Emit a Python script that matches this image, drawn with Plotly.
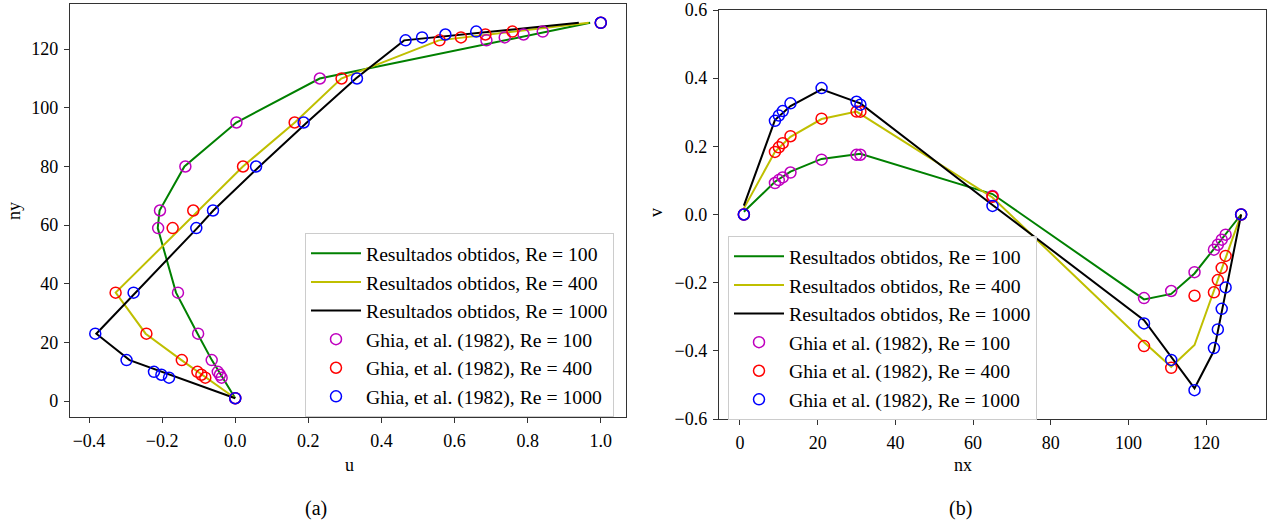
import plotly.graph_objects as go

# ---------------- Ghia et al. (1982) reference data ----------------
ghia_ny = [1, 8, 9, 10, 14, 23, 37, 59, 65, 80, 95, 110, 123, 124, 125, 126, 129]
ghia_u_100 = [0.0, -0.03717, -0.04192, -0.04775, -0.06434, -0.10150, -0.15662, -0.21090,
              -0.20581, -0.13641, 0.00332, 0.23151, 0.68717, 0.73722, 0.78871, 0.84123, 1.0]
ghia_u_400 = [0.0, -0.08186, -0.09266, -0.10338, -0.14612, -0.24299, -0.32726, -0.17119,
              -0.11477, 0.02135, 0.16256, 0.29093, 0.55892, 0.61756, 0.68439, 0.75837, 1.0]
ghia_u_1000 = [0.0, -0.18109, -0.20196, -0.22220, -0.29730, -0.38289, -0.27805, -0.10648,
               -0.06080, 0.05702, 0.18719, 0.33304, 0.46604, 0.51117, 0.57492, 0.65928, 1.0]

ghia_nx = [1, 9, 10, 11, 13, 21, 30, 31, 65, 104, 111, 117, 122, 123, 124, 125, 129]
ghia_v_100 = [0.0, 0.09233, 0.10091, 0.10890, 0.12317, 0.16077, 0.17507, 0.17527, 0.05454,
              -0.24533, -0.22445, -0.16914, -0.10313, -0.08864, -0.07391, -0.05906, 0.0]
ghia_v_400 = [0.0, 0.18360, 0.19713, 0.20920, 0.22965, 0.28124, 0.30203, 0.30174, 0.05186,
              -0.38598, -0.44993, -0.23827, -0.22847, -0.19254, -0.15663, -0.12146, 0.0]
ghia_v_1000 = [0.0, 0.27485, 0.29012, 0.30353, 0.32627, 0.37095, 0.33075, 0.32235, 0.02526,
               -0.31966, -0.42665, -0.51550, -0.39188, -0.33714, -0.27669, -0.21388, 0.0]

# ---------------- Resultados obtidos ----------------
res_ny_100 = [1, 14, 23, 37, 59, 65, 80, 95, 110, 129]
res_u_100 = [0.0, -0.064, -0.103, -0.162, -0.212, -0.207, -0.139, 0.003, 0.231, 0.971]
res_ny_400 = [1, 14, 23, 37, 80, 95, 110, 123, 129]
res_u_400 = [0.0, -0.147, -0.245, -0.327, 0.021, 0.163, 0.290, 0.557, 0.967]
res_ny_1000 = [1, 14, 23, 37, 59, 65, 80, 95, 110, 123, 129]
res_u_1000 = [0.0, -0.289, -0.380, -0.272, -0.104, -0.060, 0.066, 0.196, 0.330, 0.462, 0.940]

res_nx_100 = [1, 9, 13, 21, 31, 65, 104, 111, 117, 129]
res_v_100 = [0.008, 0.096, 0.126, 0.163, 0.178, 0.060, -0.249, -0.233, -0.173, 0.0]
res_nx_400 = [1, 9, 13, 21, 30, 65, 104, 111, 117, 129]
res_v_400 = [0.018, 0.184, 0.228, 0.280, 0.302, 0.050, -0.375, -0.447, -0.383, 0.0]
res_nx_1000 = [1, 9, 13, 21, 31, 65, 104, 117, 122, 129]
res_v_1000 = [0.026, 0.277, 0.318, 0.367, 0.326, 0.028, -0.310, -0.510, -0.400, 0.0]

reynolds = ["100", "400", "1000"]
line_colors = ["#008000", "#bfbf00", "#000000"]
marker_colors = ["#bf00bf", "#ff0000", "#0000ff"]

FONT = "Liberation Serif"
W, H = 1277, 524

fig = go.Figure()

left_lines = [(res_u_100, res_ny_100), (res_u_400, res_ny_400), (res_u_1000, res_ny_1000)]
left_marks = [ghia_u_100, ghia_u_400, ghia_u_1000]
right_lines = [(res_nx_100, res_v_100), (res_nx_400, res_v_400), (res_nx_1000, res_v_1000)]
right_marks = [ghia_v_100, ghia_v_400, ghia_v_1000]

# left panel: u along the vertical centreline
for i, re in enumerate(reynolds):
    x, y = left_lines[i]
    fig.add_trace(go.Scatter(x=x, y=y, mode="lines", line=dict(color=line_colors[i], width=2),
                             name=f"Resultados obtidos, Re = {re}", legend="legend",
                             legendgroup=f"a_l{i}", xaxis="x", yaxis="y"))
for i, re in enumerate(reynolds):
    fig.add_trace(go.Scatter(x=left_marks[i], y=ghia_ny, mode="markers",
                             marker=dict(symbol="circle-open", size=11, color=marker_colors[i],
                                         line=dict(width=1.5, color=marker_colors[i])),
                             name=f"Ghia, et al. (1982), Re = {re}", legend="legend",
                             legendgroup=f"a_m{i}", xaxis="x", yaxis="y"))

# right panel: v along the horizontal centreline
for i, re in enumerate(reynolds):
    x, y = right_lines[i]
    fig.add_trace(go.Scatter(x=x, y=y, mode="lines", line=dict(color=line_colors[i], width=2),
                             name=f"Resultados obtidos, Re = {re}", legend="legend2",
                             legendgroup=f"b_l{i}", xaxis="x2", yaxis="y2"))
for i, re in enumerate(reynolds):
    fig.add_trace(go.Scatter(x=ghia_nx, y=right_marks[i], mode="markers",
                             marker=dict(symbol="circle-open", size=11, color=marker_colors[i],
                                         line=dict(width=1.5, color=marker_colors[i])),
                             name=f"Ghia et al. (1982), Re = {re}", legend="legend2",
                             legendgroup=f"b_m{i}", xaxis="x2", yaxis="y2"))

axis_style = dict(showline=True, linecolor="#333333", linewidth=1.3, mirror=True,
                  ticks="outside", ticklen=5, tickwidth=1.1, tickcolor="#333333",
                  showgrid=False, zeroline=False, automargin=False, ticklabelstandoff=2,
                  tickfont=dict(family=FONT, size=18, color="black"))

legend_style = dict(xanchor="left", yanchor="top", bgcolor="rgba(255,255,255,0.85)",
                    bordercolor="#cccccc", borderwidth=1, itemwidth=50,
                    font=dict(family=FONT, size=19.7), tracegroupgap=1, traceorder="normal")

fig.update_layout(
    width=W, height=H,
    margin=dict(l=0, r=0, t=0, b=0, autoexpand=False),
    paper_bgcolor="white", plot_bgcolor="white",
    font=dict(family=FONT, size=18, color="black"),
    showlegend=True,
    xaxis=dict(domain=[70 / W, 626 / W], range=[-0.452, 1.069], tickvals=[-0.4, -0.2, 0, 0.2, 0.4, 0.6, 0.8, 1.0],
               tickformat=".1f", anchor="y", **axis_style),
    yaxis=dict(domain=[1 - 417 / H, 1 - 4 / H], range=[-5.4, 135.4], tickvals=[0, 20, 40, 60, 80, 100, 120],
               anchor="x", **axis_style),
    xaxis2=dict(domain=[719 / W, 1266 / W], range=[-5.4, 135.4], tickvals=[0, 20, 40, 60, 80, 100, 120],
                anchor="y2", **axis_style),
    yaxis2=dict(domain=[1 - 419 / H, 1 - 10 / H], range=[-0.6, 0.6],
                tickvals=[-0.6, -0.4, -0.2, 0.0, 0.2, 0.4, 0.6], tickformat=".1f", anchor="x2", **axis_style),
    legend=dict(x=305 / W, y=1 - 233 / H, **legend_style),
    legend2=dict(x=728 / W, y=1 - 236 / H, **legend_style),
)

# axis titles and panel captions
texts = [
    ("u", 349, 465, 0),
    ("ny", 14, 211, -90),
    ("nx", 963, 465, 0),
    ("v", 656, 213, -90),
    ("(a)", 316, 508, 0),
    ("(b)", 960, 508, 0),
]
for t, px, py, ang in texts:
    fig.add_annotation(text=t, x=px / W, y=1 - py / H, xref="paper", yref="paper",
                       xanchor="center", yanchor="middle", showarrow=False, textangle=ang,
                       font=dict(family=FONT, size=20 if t.startswith("(") else 18, color="black"))

fig.write_html("out.html")
